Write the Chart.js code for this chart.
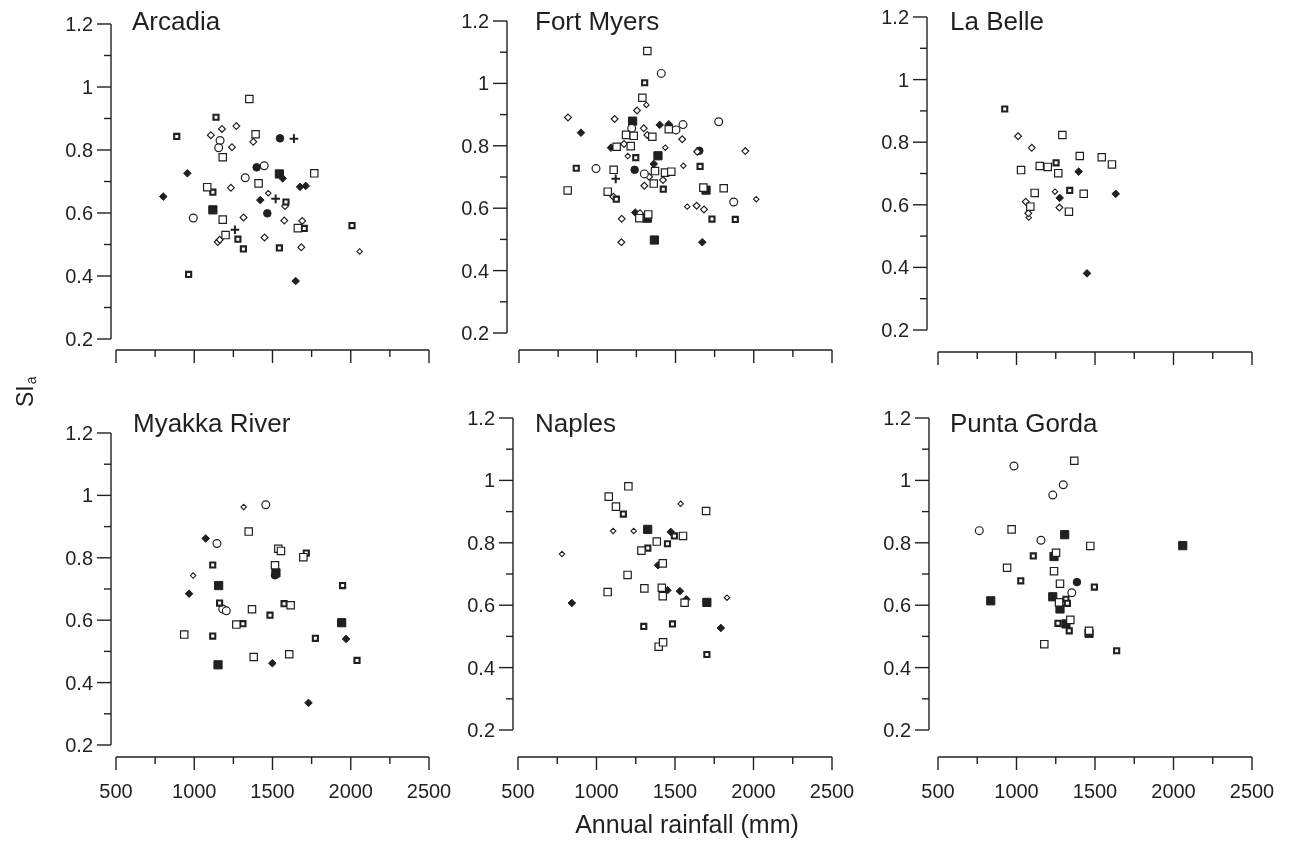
<!DOCTYPE html>
<html><head><meta charset="utf-8">
<script src="https://cdn.jsdelivr.net/npm/chart.js@4"></script>
<style>
html,body{margin:0;padding:0;background:#fff;width:1289px;height:841px;overflow:hidden}
canvas{position:absolute;left:0;top:0}
</style></head>
<body>
<canvas id="c0" width="1289" height="841"></canvas>
<canvas id="c1" width="1289" height="841"></canvas>
<canvas id="c2" width="1289" height="841"></canvas>
<canvas id="c3" width="1289" height="841"></canvas>
<canvas id="c4" width="1289" height="841"></canvas>
<canvas id="c5" width="1289" height="841"></canvas>
<script>
// ---------- tick values / labels ----------
const xTickValues = [500, 1000, 1500, 2000, 2500];
const xTickLabels = ['500', '1000', '1500', '2000', '2500'];
const xMinorValues = [750, 1250, 1750, 2250];
const yTickValues = [0.2, 0.4, 0.6, 0.8, 1.0, 1.2];
const yTickLabels = ['0.2', '0.4', '0.6', '0.8', '1', '1.2'];
const yMinorValues = [0.3, 0.5, 0.7, 0.9, 1.1];
const panelNames = ['Arcadia', 'Fort Myers', 'La Belle', 'Myakka River', 'Naples', 'Punta Gorda'];
const xAxisTitle = 'Annual rainfall (mm)';
const yAxisTitle = 'SI';
const yAxisSub = 'a';

// ---------- data (x = annual rainfall, y = SIa, kind = marker series) ----------
const arcadiaX = [1352,1139,888,1177,1269,1106,1392,1377,1548,1637,1165,1156,1241,1182,1399,1447,1544,1565,1767,956,1326,1411,1083,1119,1234,1676,1712,802,1473,1520,1422,1586,1580,1119,1467,994,1182,1315,1575,1690,1662,1703,2008,1260,1200,1279,1150,1163,1449,1314,1544,1684,2057,964,1648];
const arcadiaY = [0.962,0.904,0.843,0.867,0.876,0.847,0.850,0.826,0.837,0.836,0.830,0.807,0.809,0.777,0.745,0.750,0.724,0.710,0.726,0.726,0.712,0.694,0.682,0.666,0.680,0.683,0.686,0.652,0.663,0.645,0.641,0.635,0.622,0.610,0.599,0.584,0.579,0.586,0.576,0.575,0.552,0.551,0.560,0.547,0.530,0.517,0.508,0.515,0.522,0.486,0.489,0.491,0.478,0.405,0.384];
const arcadiaKind = ['os','bs','bs','od','od','od','os','od','fc','pl','oc','oc','od','os','fc','oc','fs','fd','os','fd','oc','os','os','bs','od','fd','fd','fd','sd','pl','fd','bs','od','fs','fc','oc','os','od','od','od','os','bs','bs','pl','os','bs','od','od','od','bs','bs','od','sd','bs','fd'];

const fortMyersX = [1320,1409,1303,1288,1254,1314,813,1111,896,1226,1220,1399,1457,1457,1503,1548,1776,1297,1352,1320,1184,1233,1543,1088,1124,1171,1214,1195,1246,1388,1435,1652,1639,1946,1361,1550,1657,866,992,1105,1118,1239,1301,1331,1369,1433,1473,1420,1361,1301,1422,811,1067,1103,1122,1695,1678,1808,1872,2016,1575,1635,1682,1733,1882,1243,1273,1269,1320,1326,1156,1154,1365,1671];
const fortMyersY = [1.104,1.032,1.002,0.954,0.913,0.931,0.891,0.886,0.842,0.879,0.856,0.867,0.869,0.853,0.851,0.868,0.877,0.856,0.829,0.835,0.835,0.832,0.821,0.794,0.797,0.806,0.799,0.767,0.762,0.768,0.794,0.784,0.781,0.783,0.742,0.736,0.734,0.728,0.727,0.723,0.694,0.723,0.710,0.701,0.719,0.714,0.717,0.690,0.679,0.672,0.661,0.657,0.653,0.637,0.629,0.658,0.666,0.664,0.620,0.629,0.605,0.608,0.596,0.565,0.564,0.586,0.584,0.568,0.568,0.580,0.566,0.491,0.498,0.491];
const fortMyersKind = ['os','oc','bs','os','od','sd','od','od','fd','fs','oc','fd','fd','os','oc','oc','oc','od','os','od','os','os','od','fd','os','od','os','sd','bs','fs','sd','fc','od','od','fd','sd','bs','bs','oc','os','pl','fc','oc','od','os','os','os','od','os','od','bs','os','os','od','bs','fs','os','os','oc','sd','sd','od','od','bs','bs','fd','od','os','fs','os','od','od','fs','fd'];

const laBelleX = [925,1010,1292,1097,1403,1543,1608,1252,1148,1199,1029,1266,1396,1632,1116,1245,1339,1428,1275,1059,1088,1273,1334,1075,1078,1449];
const laBelleY = [0.906,0.819,0.823,0.782,0.756,0.752,0.729,0.734,0.724,0.721,0.711,0.701,0.706,0.635,0.638,0.642,0.646,0.635,0.622,0.610,0.594,0.591,0.578,0.573,0.559,0.381];
const laBelleKind = ['bs','od','os','od','os','os','os','bs','os','os','os','os','fd','fd','os','sd','bs','os','fd','od','os','od','os','od','sd','fd'];

const myakkaX = [1316,1457,1348,1073,1145,1537,1554,1716,1697,1118,1516,1522,1516,993,1156,1948,967,1162,1182,1205,1369,1574,1616,1484,1269,1311,1942,936,1118,1774,1970,1380,1607,1499,1152,2040,1730];
const myakkaY = [0.963,0.970,0.884,0.862,0.846,0.829,0.822,0.815,0.802,0.777,0.776,0.752,0.744,0.743,0.711,0.711,0.685,0.655,0.636,0.630,0.635,0.653,0.648,0.616,0.586,0.589,0.592,0.554,0.549,0.542,0.540,0.482,0.491,0.462,0.457,0.471,0.335];
const myakkaKind = ['sd','oc','os','fd','oc','os','os','bs','os','bs','os','fs','fc','sd','fs','bs','fd','bs','oc','oc','os','bs','os','bs','os','bs','fs','os','bs','bs','fd','os','os','fd','fs','bs','fd'];

const naplesX = [1203,1078,1124,1171,1536,1698,1106,1237,1326,1473,1496,1551,1384,1452,1327,1286,780,1422,1392,1198,1071,1305,1416,1422,1452,1531,1572,1561,1703,1831,843,1301,1484,1792,1396,1424,1703];
const naplesY = [0.981,0.948,0.916,0.892,0.925,0.902,0.838,0.838,0.843,0.835,0.822,0.822,0.804,0.797,0.783,0.775,0.764,0.734,0.728,0.697,0.642,0.654,0.656,0.629,0.648,0.645,0.619,0.608,0.609,0.624,0.607,0.532,0.540,0.527,0.467,0.481,0.442];
const naplesKind = ['os','os','os','bs','sd','os','sd','sd','fs','fd','bs','os','os','bs','bs','os','sd','os','fd','os','os','os','os','os','fd','fd','fd','os','fs','sd','fd','bs','bs','fd','os','os','bs'];

const puntaGordaX = [984,1368,1298,1231,763,969,1307,1156,1470,2059,1107,1239,1252,940,1239,1027,1277,1385,1496,1352,836,1231,1271,1315,1324,1277,1343,1264,1315,1336,1462,1462,1177,1638];
const puntaGordaY = [1.046,1.063,0.986,0.953,0.839,0.843,0.826,0.808,0.790,0.791,0.758,0.756,0.768,0.720,0.709,0.678,0.669,0.674,0.658,0.640,0.614,0.627,0.609,0.619,0.606,0.588,0.553,0.542,0.540,0.518,0.510,0.518,0.475,0.454];
const puntaGordaKind = ['oc','os','oc','oc','oc','os','fs','oc','os','fs','bs','fs','os','os','os','bs','os','fc','bs','oc','fs','fs','os','bs','bs','fs','os','bs','fs','bs','fs','os','os','bs'];

// ---------- styling (kept separate from data) ----------
const INK = '#231f20';
const FONT = '"Liberation Sans", Arial, Helvetica, sans-serif';
// draw order: first listed ends on top
const kindOrder = ['os','bs','oc','od','sd','pl','fc','fd','fs'];
const kindStyle = {
  os: {pointStyle:'rect',    radius:5.2, bw:1.2, bg:'#ffffff'},
  bs: {pointStyle:'rect',    radius:3.6, bw:2.1, bg:'#ffffff'},
  fs: {pointStyle:'rect',    radius:5.8, bw:1.0, bg:INK},
  od: {pointStyle:'rectRot', radius:3.4, bw:1.2, bg:'#ffffff'},
  sd: {pointStyle:'rectRot', radius:2.7, bw:1.1, bg:'#ffffff'},
  fd: {pointStyle:'rectRot', radius:3.8, bw:1.0, bg:INK},
  oc: {pointStyle:'circle',  radius:3.9, bw:1.2, bg:'#ffffff'},
  fc: {pointStyle:'circle',  radius:3.8, bw:1.0, bg:INK},
  pl: {pointStyle:'cross',   radius:4.3, bw:2.0, bg:INK}
};

const panels = [
  {name:panelNames[0], xs:arcadiaX,    ys:arcadiaY,    ks:arcadiaKind,    yAxisX:111, x500:116, x2500:429,  y12:24,  y02:339, xAxisY:350, tx:132, ty:30,  xLabels:false},
  {name:panelNames[1], xs:fortMyersX,  ys:fortMyersY,  ks:fortMyersKind,  yAxisX:507, x500:519, x2500:832,  y12:21,  y02:333, xAxisY:350, tx:535, ty:30,  xLabels:false},
  {name:panelNames[2], xs:laBelleX,    ys:laBelleY,    ks:laBelleKind,    yAxisX:927, x500:938, x2500:1252, y12:17,  y02:330, xAxisY:352, tx:950, ty:30,  xLabels:false},
  {name:panelNames[3], xs:myakkaX,     ys:myakkaY,     ks:myakkaKind,     yAxisX:111, x500:116, x2500:429,  y12:433, y02:745, xAxisY:757, tx:133, ty:432, xLabels:true},
  {name:panelNames[4], xs:naplesX,     ys:naplesY,     ks:naplesKind,     yAxisX:513, x500:518, x2500:832,  y12:418, y02:730, xAxisY:757, tx:535, ty:432, xLabels:true},
  {name:panelNames[5], xs:puntaGordaX, ys:puntaGordaY, ks:puntaGordaKind, yAxisX:929, x500:938, x2500:1252, y12:418, y02:730, xAxisY:757, tx:950, ty:432, xLabels:true}
];

function line(ctx, x1, y1, x2, y2) {
  ctx.beginPath(); ctx.moveTo(x1, y1); ctx.lineTo(x2, y2); ctx.stroke();
}

const axesPlugin = {
  id: 'panelAxes',
  afterDraw(chart, args, o) {
    const ctx = chart.ctx, xs = chart.scales.x, ys = chart.scales.y;
    ctx.save();
    ctx.strokeStyle = INK; ctx.fillStyle = INK; ctx.lineWidth = 1.4; ctx.lineCap = 'butt';
    // y axis
    const ax = o.yAxisX;
    line(ctx, ax, ys.getPixelForValue(yTickValues[yTickValues.length-1]), ax, ys.getPixelForValue(yTickValues[0]));
    ctx.font = '20px ' + FONT; ctx.textAlign = 'right'; ctx.textBaseline = 'alphabetic';
    yTickValues.forEach((v, i) => {
      const p = ys.getPixelForValue(v);
      line(ctx, ax - 14, p, ax, p);
      ctx.fillText(yTickLabels[i], ax - 18, p + 7);
    });
    yMinorValues.forEach(v => { const p = ys.getPixelForValue(v); line(ctx, ax - 7, p, ax, p); });
    // x axis
    const ay = o.xAxisY;
    line(ctx, xs.getPixelForValue(xTickValues[0]), ay, xs.getPixelForValue(xTickValues[xTickValues.length-1]), ay);
    ctx.textAlign = 'center';
    xTickValues.forEach((v, i) => {
      const p = xs.getPixelForValue(v);
      line(ctx, p, ay, p, ay + 13);
      if (o.xLabels) ctx.fillText(xTickLabels[i], p, 798);
    });
    xMinorValues.forEach(v => { const p = xs.getPixelForValue(v); line(ctx, p, ay, p, ay + 7); });
    // panel title
    ctx.font = '26px ' + FONT; ctx.textAlign = 'left';
    ctx.fillText(o.title, o.tx, o.ty);
    // figure-level axis titles
    if (o.global) {
      ctx.font = '25px ' + FONT; ctx.textAlign = 'center';
      ctx.fillText(xAxisTitle, 687, 833);
      ctx.save();
      ctx.translate(33, 407); ctx.rotate(-Math.PI / 2);
      ctx.textAlign = 'left'; ctx.font = '23px ' + FONT;
      ctx.fillText(yAxisTitle, 0, 0);
      const w = ctx.measureText(yAxisTitle).width;
      ctx.font = '14px ' + FONT;
      ctx.fillText(yAxisSub, w + 1, 3);
      ctx.restore();
    }
    ctx.restore();
  }
};

panels.forEach((pn, idx) => {
  const datasets = kindOrder.map(k => {
    const st = kindStyle[k];
    const pts = [];
    pn.ks.forEach((kk, i) => { if (kk === k) pts.push({x: pn.xs[i], y: pn.ys[i]}); });
    return {
      label: k, data: pts, showLine: false,
      pointStyle: st.pointStyle, pointRadius: st.radius, pointHoverRadius: st.radius,
      pointBorderWidth: st.bw, pointBorderColor: INK, pointBackgroundColor: st.bg,
      clip: false
    };
  }).filter(d => d.data.length);
  new Chart(document.getElementById('c' + idx), {
    type: 'scatter',
    data: {datasets},
    plugins: [axesPlugin],
    options: {
      responsive: false, animation: false, devicePixelRatio: 1,
      events: [],
      layout: {padding: {left: pn.x500, right: 1289 - pn.x2500, top: pn.y12, bottom: 841 - pn.y02}},
      scales: {
        x: {type: 'linear', min: 500, max: 2500, display: false},
        y: {type: 'linear', min: 0.2, max: 1.2, display: false}
      },
      plugins: {
        legend: {display: false}, tooltip: {enabled: false}, title: {display: false},
        panelAxes: {yAxisX: pn.yAxisX, xAxisY: pn.xAxisY, xLabels: pn.xLabels, title: pn.name, tx: pn.tx, ty: pn.ty, global: idx === 0}
      }
    }
  });
});
</script>
</body></html>
